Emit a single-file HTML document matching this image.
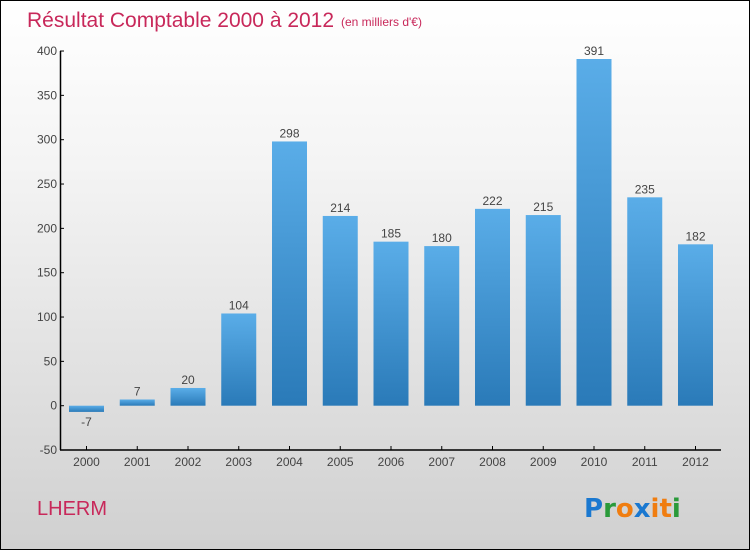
<!DOCTYPE html>
<html><head><meta charset="utf-8"><style>
html,body{margin:0;padding:0}
body{width:750px;height:550px;overflow:hidden;font-family:"Liberation Sans",sans-serif}
#wrap{position:relative;width:748px;height:548px;border:1px solid #000;background:linear-gradient(#ffffff 0%,#f4f4f4 30%,#d0d0d0 100%)}
</style></head><body>
<div id="wrap">
<svg width="748" height="548">
<defs>
<linearGradient id="bg" x1="0" y1="0" x2="0" y2="1"><stop offset="0" stop-color="#5aade8"/><stop offset="1" stop-color="#2a7ab8"/></linearGradient>
</defs>
<text x="26" y="26" font-size="21" fill="#c8285a">Résultat Comptable 2000 à 2012</text>
<text x="340" y="25" font-size="12" fill="#c8285a">(en milliers d'€)</text>
<text x="36" y="514" font-size="20" fill="#c8285a">LHERM</text>
<g font-size="26" font-weight="bold" font-family="'DejaVu Sans',sans-serif">
<text x="583" y="516"><tspan fill="#1a78d0">P</tspan><tspan fill="#2a9a3a">r</tspan><tspan fill="#f07d10">o</tspan><tspan fill="#1a78d0">x</tspan><tspan fill="#f07d10">it</tspan><tspan fill="#2a9a3a">i</tspan></text>
</g>
<g id="plot"></g>
</svg>
</div>
<script>
const categories=["2000","2001","2002","2003","2004","2005","2006","2007","2008","2009","2010","2011","2012"];
const values=[-7,7,20,104,298,214,185,180,222,215,391,235,182];
const yTicks=[-50,0,50,100,150,200,250,300,350,400];
const NS="http://www.w3.org/2000/svg";
const g=document.getElementById("plot");
const y=v=>405+(0-v)*0.8867-0.3;
const x=i=>85.5+i*50.75;
function el(t,a){const e=document.createElementNS(NS,t);for(const k in a)e.setAttribute(k,a[k]);g.appendChild(e);return e;}
let ax=el("line",{x1:59.5,y1:50,x2:59.5,y2:y(-50),stroke:"#000","stroke-width":1.5});


let xa=el("line",{x1:59,y1:y(-50),x2:720,y2:y(-50),stroke:"#000","stroke-width":1.5});


yTicks.forEach(v=>{
 const l=el("line",{x1:59,y1:y(v),x2:63,y2:y(v),stroke:"#000"});
 
 
 const t=el("text",{x:56,y:y(v)+4,"text-anchor":"end","font-size":12,fill:"#444"});
 t.textContent=v;
 
 
});
categories.forEach((c,i)=>{
 const cx=x(i),v=values[i];
 const l=el("line",{x1:cx,y1:y(-50)-4,x2:cx,y2:y(-50),stroke:"#000"});
 
 
 const t=el("text",{x:cx,y:y(-50)+16,"text-anchor":"middle","font-size":12,fill:"#444"});
 t.textContent=c;
 
 
 const top=Math.min(y(v),y(0)),h=Math.abs(y(v)-y(0));
 const b=el("rect",{x:cx-17.5,y:top,width:35,height:Math.max(h,1),fill:"url(#bg)"});
 
 
 const vl=el("text",{x:cx,y:v>=0?y(v)-4:y(v)+14,"text-anchor":"middle","font-size":12,fill:"#444"});
 vl.textContent=v;
 
 
});
</script>
</body></html>
